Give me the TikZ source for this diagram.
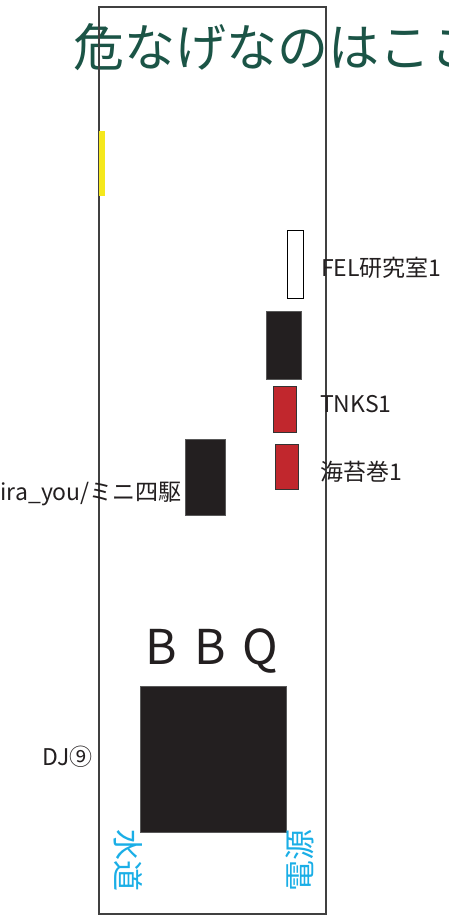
\documentclass[tikz,border=0pt]{standalone}
\usepackage{fontspec}
\setmainfont{Noto Sans CJK JP}
\definecolor{titlegreen}{HTML}{1B5446}
\definecolor{boxblack}{HTML}{231F20}
\definecolor{boxred}{HTML}{C1272D}
\definecolor{yel}{HTML}{F5E81C}
\definecolor{cyanlbl}{HTML}{1AAEE6}
\definecolor{txt}{HTML}{231F20}
\begin{document}
\begin{tikzpicture}[x=1pt,y=-1pt,
  blackbox/.style={fill=boxblack,draw=black!65,line width=1pt},
  redbox/.style={fill=boxred,draw=black!80,line width=0.8pt},
  whitebox/.style={fill=white,draw=black,line width=0.8pt},
  lbl/.style={anchor=west,inner sep=0,text=txt,font=\fontsize{23}{23}\selectfont},
  vlbl/.style={inner sep=0,text=cyanlbl,font=\fontsize{31}{31}\selectfont}]
\useasboundingbox (0,0) rectangle (448,916);
% title
\node[anchor=west,inner sep=0,text=titlegreen,font=\fontsize{51}{51}\selectfont] (title) at (73,47) {危なげなのはここ};
% frame
\draw[draw=black!75,line width=1.3pt] (99,7) rectangle (326,914);
% yellow bar
\fill[yel] (99,131) rectangle (105,196);
% boxes
\draw[whitebox] (287,230) rectangle (303,298);
\draw[blackbox] (266,311) rectangle (301,379);
\draw[redbox] (273,386) rectangle (296,432);
\draw[redbox] (275,444) rectangle (298,489);
\draw[blackbox] (185,439) rectangle (225,515);
\draw[blackbox] (140,686) rectangle (286,832);
% labels
\node[lbl] (fel) at (321,268) {FEL研究室1};
\node[lbl] (tnks) at (320,404) {TNKS1};
\node[lbl] (nori) at (320,472) {海苔巻1};
\node[lbl,anchor=east] (mini) at (182,494) {ira\_you/ミニ四駆};
\node[lbl,anchor=east] (dj) at (93,757) {DJ⑨};
\node[inner sep=0,text=txt,font=\fontsize{48}{48}\selectfont] (bbq) at (212,651) {B\hspace{17pt}B\hspace{17pt}Q};
\node[vlbl,rotate=-90] (water) at (128,860) {水道};
\node[vlbl,rotate=90] (power) at (300,860) {電源};
\end{tikzpicture}
\end{document}
